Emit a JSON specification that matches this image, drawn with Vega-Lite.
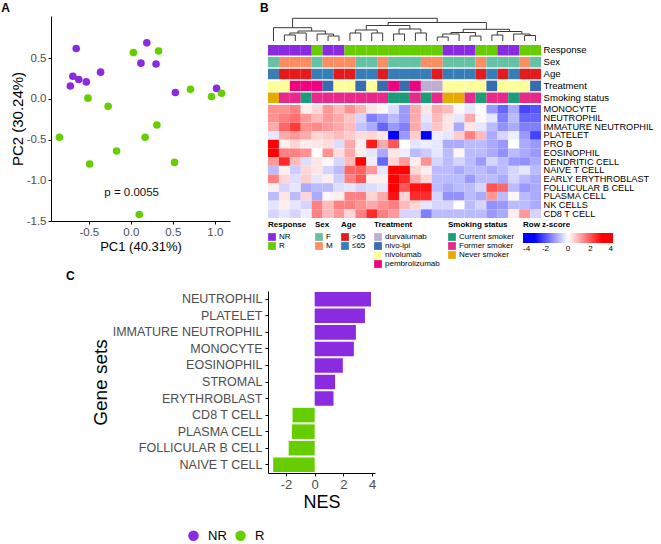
{
  "$schema": "https://vega.github.io/schema/vega-lite/v6.json",
  "padding": {"left": 1, "top": 2, "right": 2, "bottom": 0},
  "config": {
    "view": {"stroke": null},
    "font": "Liberation Sans",
    "locale": {"number": {"decimal": ".", "thousands": ",", "grouping": [3], "currency": ["$", ""], "minus": "-"}},
    "title": {"fontSize": 12, "fontWeight": "bold", "color": "#000", "anchor": "start", "font": "Liberation Sans"},
    "axis": {"grid": false, "domainColor": "#000", "tickColor": "#000", "labelColor": "#4D4D4D", "titleColor": "#000", "titleFontWeight": "normal", "tickSize": 3, "labelFont": "Liberation Sans", "titleFont": "Liberation Sans"},
    "legend": {
      "orient": "bottom", "offset": 3, "padding": 0,
      "titleFont": "Liberation Sans", "titleFontSize": 8, "titleFontWeight": "bold", "titleColor": "#000", "titlePadding": 4,
      "labelFont": "Liberation Sans", "labelFontSize": 8, "labelColor": "#000", "labelOffset": 3,
      "symbolType": "square", "symbolSize": 60, "symbolStrokeWidth": 0, "rowPadding": 1
    }
  },
  "datasets": {
    "pca": [
      {"PC1": -0.65, "PC2": 0.62, "Response": "NR"},
      {"PC1": -0.69, "PC2": 0.28, "Response": "NR"},
      {"PC1": -0.72, "PC2": 0.16, "Response": "NR"},
      {"PC1": -0.62, "PC2": 0.24, "Response": "NR"},
      {"PC1": -0.53, "PC2": 0.21, "Response": "NR"},
      {"PC1": -0.36, "PC2": 0.33, "Response": "NR"},
      {"PC1": 0.12, "PC2": 0.44, "Response": "NR"},
      {"PC1": 0.19, "PC2": 0.69, "Response": "NR"},
      {"PC1": 0.30, "PC2": 0.43, "Response": "NR"},
      {"PC1": 0.53, "PC2": 0.08, "Response": "NR"},
      {"PC1": 1.02, "PC2": 0.13, "Response": "NR"},
      {"PC1": 0.03, "PC2": 0.57, "Response": "R"},
      {"PC1": 0.33, "PC2": 0.59, "Response": "R"},
      {"PC1": -0.51, "PC2": 0.01, "Response": "R"},
      {"PC1": -0.27, "PC2": -0.09, "Response": "R"},
      {"PC1": -0.85, "PC2": -0.47, "Response": "R"},
      {"PC1": 0.71, "PC2": 0.12, "Response": "R"},
      {"PC1": 0.96, "PC2": 0.03, "Response": "R"},
      {"PC1": 1.08, "PC2": 0.07, "Response": "R"},
      {"PC1": 0.31, "PC2": -0.32, "Response": "R"},
      {"PC1": 0.17, "PC2": -0.47, "Response": "R"},
      {"PC1": -0.17, "PC2": -0.64, "Response": "R"},
      {"PC1": -0.49, "PC2": -0.80, "Response": "R"},
      {"PC1": 0.52, "PC2": -0.78, "Response": "R"},
      {"PC1": 0.10, "PC2": -1.42, "Response": "R"}
    ],
    "samples": [
      {"sample": "S01", "Response": "NR", "Sex": "F", "Age": "≤65", "Treatment": "nivolumab", "Smoking status": "Never smoker"},
      {"sample": "S02", "Response": "NR", "Sex": "M", "Age": ">65", "Treatment": "nivolumab", "Smoking status": "Former smoker"},
      {"sample": "S03", "Response": "NR", "Sex": "M", "Age": ">65", "Treatment": "pembrolizumab", "Smoking status": "Former smoker"},
      {"sample": "S04", "Response": "NR", "Sex": "M", "Age": ">65", "Treatment": "pembrolizumab", "Smoking status": "Current smoker"},
      {"sample": "S05", "Response": "R", "Sex": "F", "Age": "≤65", "Treatment": "pembrolizumab", "Smoking status": "Former smoker"},
      {"sample": "S06", "Response": "NR", "Sex": "M", "Age": "≤65", "Treatment": "nivo-ipi", "Smoking status": "Former smoker"},
      {"sample": "S07", "Response": "NR", "Sex": "M", "Age": ">65", "Treatment": "nivolumab", "Smoking status": "Former smoker"},
      {"sample": "S08", "Response": "R", "Sex": "M", "Age": ">65", "Treatment": "nivolumab", "Smoking status": "Former smoker"},
      {"sample": "S09", "Response": "R", "Sex": "F", "Age": "≤65", "Treatment": "nivo-ipi", "Smoking status": "Former smoker"},
      {"sample": "S10", "Response": "R", "Sex": "F", "Age": "≤65", "Treatment": "nivolumab", "Smoking status": "Former smoker"},
      {"sample": "S11", "Response": "R", "Sex": "M", "Age": ">65", "Treatment": "nivo-ipi", "Smoking status": "Former smoker"},
      {"sample": "S12", "Response": "R", "Sex": "F", "Age": "≤65", "Treatment": "pembrolizumab", "Smoking status": "Current smoker"},
      {"sample": "S13", "Response": "R", "Sex": "F", "Age": "≤65", "Treatment": "nivo-ipi", "Smoking status": "Current smoker"},
      {"sample": "S14", "Response": "R", "Sex": "F", "Age": "≤65", "Treatment": "pembrolizumab", "Smoking status": "Former smoker"},
      {"sample": "S15", "Response": "R", "Sex": "M", "Age": "≤65", "Treatment": "durvalumab", "Smoking status": "Current smoker"},
      {"sample": "S16", "Response": "R", "Sex": "M", "Age": ">65", "Treatment": "durvalumab", "Smoking status": "Former smoker"},
      {"sample": "S17", "Response": "NR", "Sex": "F", "Age": "≤65", "Treatment": "nivolumab", "Smoking status": "Never smoker"},
      {"sample": "S18", "Response": "NR", "Sex": "F", "Age": "≤65", "Treatment": "nivolumab", "Smoking status": "Never smoker"},
      {"sample": "S19", "Response": "NR", "Sex": "F", "Age": "≤65", "Treatment": "nivolumab", "Smoking status": "Former smoker"},
      {"sample": "S20", "Response": "R", "Sex": "M", "Age": ">65", "Treatment": "nivolumab", "Smoking status": "Current smoker"},
      {"sample": "S21", "Response": "R", "Sex": "F", "Age": "≤65", "Treatment": "nivo-ipi", "Smoking status": "Former smoker"},
      {"sample": "S22", "Response": "NR", "Sex": "F", "Age": ">65", "Treatment": "nivolumab", "Smoking status": "Former smoker"},
      {"sample": "S23", "Response": "NR", "Sex": "F", "Age": "≤65", "Treatment": "nivolumab", "Smoking status": "Current smoker"},
      {"sample": "S24", "Response": "R", "Sex": "M", "Age": ">65", "Treatment": "nivolumab", "Smoking status": "Former smoker"},
      {"sample": "S25", "Response": "R", "Sex": "F", "Age": ">65", "Treatment": "nivo-ipi", "Smoking status": "Former smoker"}
    ],
    "heat": [
      {"cell": "MONOCYTE", "S01": 1.3, "S02": 1.3, "S03": 1.5, "S04": 0.2, "S05": 0.5, "S06": 1.2, "S07": 0.8, "S08": 1.3, "S09": 0.9, "S10": 0.3, "S11": 0.1, "S12": -0.4, "S13": -1.2, "S14": 1.0, "S15": 0.3, "S16": 1.0, "S17": 0.8, "S18": 0.1, "S19": -0.3, "S20": 0.0, "S21": -1.2, "S22": -1.8, "S23": -1.0, "S24": -2.2, "S25": -2.0},
      {"cell": "NEUTROPHIL", "S01": 1.3, "S02": 1.5, "S03": 1.7, "S04": 1.2, "S05": 0.8, "S06": 1.2, "S07": 1.0, "S08": 0.7, "S09": -0.5, "S10": -1.5, "S11": -1.2, "S12": -0.8, "S13": -1.2, "S14": 1.0, "S15": -0.3, "S16": 0.8, "S17": 0.3, "S18": -0.3, "S19": 1.0, "S20": 0.1, "S21": -0.3, "S22": -1.5, "S23": -0.8, "S24": -1.8, "S25": -1.8},
      {"cell": "IMMATURE NEUTROPHIL", "S01": 1.0, "S02": 1.8, "S03": 2.3, "S04": 1.3, "S05": 1.4, "S06": 1.2, "S07": 1.0, "S08": 0.8, "S09": -0.7, "S10": -1.0, "S11": -1.8, "S12": -1.2, "S13": -1.5, "S14": 1.0, "S15": -0.5, "S16": 0.7, "S17": 0.3, "S18": -1.0, "S19": 0.3, "S20": -0.3, "S21": -0.8, "S22": -1.3, "S23": -1.0, "S24": -1.5, "S25": -1.5},
      {"cell": "PLATELET", "S01": -0.3, "S02": 1.0, "S03": 1.2, "S04": 1.0, "S05": 0.5, "S06": 0.6, "S07": 0.8, "S08": 0.6, "S09": 0.4, "S10": 0.5, "S11": 0.3, "S12": -3.0, "S13": -1.2, "S14": 0.6, "S15": -3.0, "S16": -0.2, "S17": -0.3, "S18": 0.6, "S19": 1.5, "S20": 0.8, "S21": -1.0, "S22": -0.5, "S23": -0.2, "S24": -1.2, "S25": -2.2},
      {"cell": "PRO B", "S01": 3.5, "S02": 0.2, "S03": 0.5, "S04": 0.2, "S05": 0.3, "S06": 0.4, "S07": -0.4, "S08": 1.0, "S09": 0.2, "S10": 2.7, "S11": 1.0, "S12": 2.0, "S13": 0.0, "S14": -0.3, "S15": -0.2, "S16": -0.3, "S17": -1.0, "S18": -1.0, "S19": -0.8, "S20": -0.8, "S21": -1.0, "S22": -1.2, "S23": 0.0, "S24": -1.0, "S25": -1.2},
      {"cell": "EOSINOPHIL", "S01": 3.0, "S02": 1.5, "S03": 1.5, "S04": 1.3, "S05": 0.0, "S06": 1.3, "S07": 0.4, "S08": 1.0, "S09": 0.2, "S10": -0.3, "S11": -1.0, "S12": 0.3, "S13": -0.2, "S14": -0.8, "S15": -0.6, "S16": -0.3, "S17": -0.8, "S18": 0.1, "S19": -0.8, "S20": -0.8, "S21": -1.0, "S22": -1.3, "S23": -0.8, "S24": -1.0, "S25": -1.2},
      {"cell": "DENDRITIC CELL", "S01": 1.2, "S02": 2.5, "S03": 0.8, "S04": -0.4, "S05": 0.3, "S06": 0.1, "S07": -0.5, "S08": 0.8, "S09": 3.5, "S10": -0.2, "S11": -1.8, "S12": 0.5, "S13": 1.2, "S14": 0.2, "S15": 1.3, "S16": -0.5, "S17": -0.8, "S18": -0.5, "S19": -0.8, "S20": -1.2, "S21": -0.5, "S22": -0.8, "S23": -1.2, "S24": -1.3, "S25": -1.0},
      {"cell": "NAIVE T CELL", "S01": -0.8, "S02": 0.2, "S03": -0.6, "S04": 0.5, "S05": 0.3, "S06": -0.5, "S07": -0.8, "S08": 1.8, "S09": 1.8, "S10": 1.2, "S11": -0.3, "S12": 3.5, "S13": 3.0, "S14": 0.5, "S15": 0.2, "S16": -0.8, "S17": -0.8, "S18": -1.0, "S19": -0.8, "S20": -0.8, "S21": -1.0, "S22": -0.8, "S23": -0.5, "S24": -0.3, "S25": -0.8},
      {"cell": "EARLY ERYTHROBLAST", "S01": 1.5, "S02": 0.5, "S03": -0.4, "S04": 0.6, "S05": -0.3, "S06": 0.2, "S07": -0.6, "S08": 1.5, "S09": 2.0, "S10": 0.2, "S11": 0.2, "S12": 3.5, "S13": 2.5, "S14": 1.0, "S15": 0.5, "S16": -0.8, "S17": -0.8, "S18": -0.8, "S19": -1.2, "S20": -0.8, "S21": -0.8, "S22": -1.0, "S23": -0.5, "S24": -0.8, "S25": -1.0},
      {"cell": "FOLLICULAR B CELL", "S01": 0.2, "S02": -0.5, "S03": -0.3, "S04": -1.0, "S05": -0.8, "S06": -0.8, "S07": -0.4, "S08": -0.3, "S09": -0.5, "S10": -0.4, "S11": -0.3, "S12": 3.8, "S13": 2.0, "S14": 2.8, "S15": 2.8, "S16": -0.8, "S17": -1.0, "S18": -0.8, "S19": -0.8, "S20": -0.5, "S21": 2.0, "S22": 1.8, "S23": -0.8, "S24": -1.2, "S25": -1.0},
      {"cell": "PLASMA CELL", "S01": -0.8, "S02": 0.3, "S03": -0.8, "S04": 0.5, "S05": -1.0, "S06": 0.1, "S07": 0.2, "S08": 1.5, "S09": 1.5, "S10": 0.5, "S11": 1.0, "S12": 2.8, "S13": 0.5, "S14": 2.5, "S15": 2.5, "S16": -0.5, "S17": -1.3, "S18": -1.3, "S19": -0.8, "S20": -1.0, "S21": 1.2, "S22": -0.8, "S23": 0.1, "S24": -0.8, "S25": -1.0},
      {"cell": "NK CELLS", "S01": -0.3, "S02": 0.2, "S03": -0.3, "S04": -0.5, "S05": 1.5, "S06": 0.8, "S07": 1.5, "S08": 1.5, "S09": 1.3, "S10": 1.0, "S11": 1.3, "S12": 1.5, "S13": 0.8, "S14": 0.5, "S15": -0.3, "S16": -0.5, "S17": -0.5, "S18": 0.0, "S19": -0.8, "S20": -0.5, "S21": -1.3, "S22": -1.2, "S23": -0.8, "S24": -0.8, "S25": -1.0},
      {"cell": "CD8 T CELL", "S01": -0.5, "S02": -0.3, "S03": -0.5, "S04": -0.2, "S05": 1.5, "S06": 0.8, "S07": 1.2, "S08": 0.5, "S09": 1.5, "S10": 2.5, "S11": 1.5, "S12": 1.2, "S13": -0.5, "S14": -0.5, "S15": -1.5, "S16": -0.8, "S17": -0.8, "S18": -0.8, "S19": -0.8, "S20": -0.8, "S21": -1.2, "S22": -1.0, "S23": 0.2, "S24": 1.2, "S25": -0.5}
    ],
    "dendro": [
      {"l": 1.5, "r": 2.5, "lh": 0, "rh": 0, "h": 6},
      {"l": 2.0, "r": 3.5, "lh": 6, "rh": 0, "h": 8},
      {"l": 5.5, "r": 6.5, "lh": 0, "rh": 0, "h": 5},
      {"l": 4.5, "r": 6.0, "lh": 0, "rh": 5, "h": 7},
      {"l": 2.75, "r": 5.25, "lh": 8, "rh": 7, "h": 10},
      {"l": 0.5, "r": 4.0, "lh": 0, "rh": 10, "h": 13.3},
      {"l": 7.5, "r": 8.5, "lh": 0, "rh": 0, "h": 8},
      {"l": 9.5, "r": 10.5, "lh": 0, "rh": 0, "h": 8},
      {"l": 8.0, "r": 10.0, "lh": 8, "rh": 8, "h": 11},
      {"l": 11.5, "r": 12.5, "lh": 0, "rh": 0, "h": 7},
      {"l": 13.5, "r": 14.5, "lh": 0, "rh": 0, "h": 8},
      {"l": 12.0, "r": 14.0, "lh": 7, "rh": 8, "h": 12},
      {"l": 9.0, "r": 13.0, "lh": 11, "rh": 12, "h": 15.5},
      {"l": 15.5, "r": 16.5, "lh": 0, "rh": 0, "h": 4},
      {"l": 16.0, "r": 17.5, "lh": 4, "rh": 0, "h": 7},
      {"l": 18.5, "r": 19.5, "lh": 0, "rh": 0, "h": 5},
      {"l": 16.75, "r": 19.0, "lh": 7, "rh": 5, "h": 8.5},
      {"l": 20.5, "r": 21.5, "lh": 0, "rh": 0, "h": 6},
      {"l": 23.5, "r": 24.5, "lh": 0, "rh": 0, "h": 5.5},
      {"l": 22.5, "r": 24.0, "lh": 0, "rh": 5.5, "h": 7},
      {"l": 21.0, "r": 23.25, "lh": 6, "rh": 7, "h": 9.5},
      {"l": 17.875, "r": 22.125, "lh": 8.5, "rh": 9.5, "h": 11.7},
      {"l": 11.0, "r": 20.0, "lh": 15.5, "rh": 11.7, "h": 18.5},
      {"l": 2.25, "r": 15.5, "lh": 13.3, "rh": 18.5, "h": 22.7}
    ],
    "nes": [
      {"set": "NEUTROPHIL", "nes": 3.92, "group": "NR"},
      {"set": "PLATELET", "nes": 3.5, "group": "NR"},
      {"set": "IMMATURE NEUTROPHIL", "nes": 2.87, "group": "NR"},
      {"set": "MONOCYTE", "nes": 2.73, "group": "NR"},
      {"set": "EOSINOPHIL", "nes": 1.96, "group": "NR"},
      {"set": "STROMAL", "nes": 1.42, "group": "NR"},
      {"set": "ERYTHROBLAST", "nes": 1.31, "group": "NR"},
      {"set": "CD8 T CELL", "nes": -1.54, "group": "R"},
      {"set": "PLASMA CELL", "nes": -1.58, "group": "R"},
      {"set": "FOLLICULAR B CELL", "nes": -1.81, "group": "R"},
      {"set": "NAIVE T CELL", "nes": -2.89, "group": "R"}
    ]
  },
  "resolve": {"scale": {"color": "independent"}},
  "bounds": "flush",
  "spacing": 38,
  "hconcat": [
    {
      "title": {"text": "A", "dx": -9, "offset": 1},
      "width": 179,
      "height": 205,
      "layer": [
        {
          "data": {"name": "pca"},
          "mark": {"type": "circle", "size": 58, "opacity": 1},
          "encoding": {
            "x": {"field": "PC1", "type": "quantitative", "scale": {"domain": [-0.95, 1.18], "nice": false, "zero": false}, "axis": {"title": "PC1 (40.31%)", "values": [-0.5, 0, 0.5, 1], "format": ".1f", "labelFontSize": 11.5, "titleFontSize": 13, "labelPadding": 2, "titlePadding": 3}},
            "y": {"field": "PC2", "type": "quantitative", "scale": {"domain": [-1.5, 1.02], "nice": false, "zero": false}, "axis": {"title": "PC2 (30.24%)", "values": [-1.5, -1, -0.5, 0, 0.5], "format": ".1f", "labelFontSize": 11.5, "titleFontSize": 15, "labelPadding": 2, "titlePadding": 1}},
            "color": {"field": "Response", "type": "nominal", "scale": {"domain": ["NR", "R"], "range": ["#8A2BE2", "#66CD00"]}, "legend": null}
          }
        },
        {
          "data": {"values": [{"label": "p = 0.0055", "PC1": 0.01, "PC2": -1.15}]},
          "mark": {"type": "text", "fontSize": 11.5, "color": "#111"},
          "encoding": {
            "x": {"field": "PC1", "type": "quantitative"},
            "y": {"field": "PC2", "type": "quantitative"},
            "text": {"field": "label"}
          }
        }
      ]
    },
    {
      "spacing": 2,
      "resolve": {"scale": {"color": "independent"}},
      "vconcat": [
        {
          "title": {"text": "B", "dx": -8, "offset": 1},
          "spacing": 2,
          "resolve": {"scale": {"color": "independent"}},
          "vconcat": [
            {
              "width": 273,
              "height": 25,
              "data": {"name": "dendro"},
              "layer": [
                {
                  "mark": {"type": "rule", "color": "#3a3a3a", "strokeWidth": 1},
                  "encoding": {
                    "x": {"field": "l", "type": "quantitative", "scale": {"domain": [0, 25], "nice": false, "zero": false}, "axis": null},
                    "x2": {"field": "r"},
                    "y": {"field": "h", "type": "quantitative", "scale": {"domain": [0, 25], "nice": false}, "axis": null}
                  }
                },
                {
                  "mark": {"type": "rule", "color": "#3a3a3a", "strokeWidth": 1},
                  "encoding": {
                    "x": {"field": "l", "type": "quantitative"},
                    "y": {"field": "lh", "type": "quantitative"},
                    "y2": {"field": "h"}
                  }
                },
                {
                  "mark": {"type": "rule", "color": "#3a3a3a", "strokeWidth": 1},
                  "encoding": {
                    "x": {"field": "r", "type": "quantitative"},
                    "y": {"field": "rh", "type": "quantitative"},
                    "y2": {"field": "h"}
                  }
                }
              ]
            },
            {
              "width": 273,
              "height": 173,
              "resolve": {"scale": {"y": "independent", "color": "independent"}, "axis": {"y": "independent"}},
              "layer": [
                {
                  "data": {"name": "samples"},
                  "resolve": {"scale": {"color": "independent"}},
                  "layer": [
                    {
                      "mark": "rect",
                      "encoding": {
                        "x": {"field": "sample", "type": "nominal", "axis": null, "scale": {"paddingInner": 0, "paddingOuter": 0}},
                        "y": {"datum": "Response", "type": "nominal", "scale": {"domain": ["Response", "Sex", "Age", "Treatment", "Smoking status"], "range": [0, 58], "paddingInner": 0.12, "paddingOuter": 0}, "axis": {"orient": "right", "title": null, "domain": false, "ticks": false, "labelPadding": 2, "labelFontSize": 9.6, "labelColor": "#000"}},
                        "color": {"field": "Response", "type": "nominal", "scale": {"domain": ["NR", "R"], "range": ["#8A2BE2", "#66CD00"]}, "legend": {"title": "Response", "direction": "vertical"}}
                      }
                    },
                    {
                      "mark": "rect",
                      "encoding": {
                        "x": {"field": "sample", "type": "nominal"},
                        "y": {"datum": "Sex", "type": "nominal"},
                        "color": {"field": "Sex", "type": "nominal", "scale": {"domain": ["F", "M"], "range": ["#66C2A5", "#FC8D62"]}, "legend": {"title": "Sex", "direction": "vertical"}}
                      }
                    },
                    {
                      "mark": "rect",
                      "encoding": {
                        "x": {"field": "sample", "type": "nominal"},
                        "y": {"datum": "Age", "type": "nominal"},
                        "color": {"field": "Age", "type": "nominal", "scale": {"domain": [">65", "≤65"], "range": ["#E41A1C", "#377EB8"]}, "legend": {"title": "Age", "direction": "vertical"}}
                      }
                    },
                    {
                      "mark": "rect",
                      "encoding": {
                        "x": {"field": "sample", "type": "nominal"},
                        "y": {"datum": "Treatment", "type": "nominal"},
                        "color": {"field": "Treatment", "type": "nominal", "scale": {"domain": ["durvalumab", "nivo-ipi", "nivolumab", "pembrolizumab"], "range": ["#BEAED4", "#386CB0", "#FFFF99", "#F0027F"]}, "legend": {"title": "Treatment", "direction": "vertical"}}
                      }
                    },
                    {
                      "mark": "rect",
                      "encoding": {
                        "x": {"field": "sample", "type": "nominal"},
                        "y": {"datum": "Smoking status", "type": "nominal"},
                        "color": {"field": "Smoking status", "type": "nominal", "scale": {"domain": ["Current smoker", "Former smoker", "Never smoker"], "range": ["#1B9E77", "#E7298A", "#E6AB02"]}, "legend": {"title": "Smoking status", "direction": "vertical"}}
                      }
                    }
                  ]
                },
                {
                  "data": {"name": "heat"},
                  "transform": [{"fold": ["S01", "S02", "S03", "S04", "S05", "S06", "S07", "S08", "S09", "S10", "S11", "S12", "S13", "S14", "S15", "S16", "S17", "S18", "S19", "S20", "S21", "S22", "S23", "S24", "S25"], "as": ["sample", "z"]}],
                  "mark": "rect",
                  "encoding": {
                    "x": {"field": "sample", "type": "nominal"},
                    "y": {"field": "cell", "type": "nominal", "scale": {"domain": ["MONOCYTE", "NEUTROPHIL", "IMMATURE NEUTROPHIL", "PLATELET", "PRO B", "EOSINOPHIL", "DENDRITIC CELL", "NAIVE T CELL", "EARLY ERYTHROBLAST", "FOLLICULAR B CELL", "PLASMA CELL", "NK CELLS", "CD8 T CELL"], "range": [60, 173], "paddingInner": 0, "paddingOuter": 0}, "axis": {"orient": "right", "title": null, "domain": false, "ticks": false, "labelPadding": 2, "labelFontSize": 9.2, "labelColor": "#000"}},
                    "color": {"field": "z", "type": "quantitative", "scale": {"domain": [-4, -3, 0, 3, 4], "range": ["#0000FF", "#0000FF", "#FFFFFF", "#FF0000", "#FF0000"], "interpolate": "rgb"}, "legend": {"title": "Row z-score", "direction": "horizontal", "gradientLength": 90, "gradientThickness": 10, "values": [-4, -2, 0, 2, 4]}}
                  }
                }
              ]
            }
          ]
        },
        {
          "width": 107,
          "height": 182,
          "title": {"text": "C", "frame": "group", "dx": -202, "offset": 8},
          "data": {"name": "nes"},
          "mark": {"type": "bar"},
          "encoding": {
            "y": {"field": "set", "type": "nominal", "sort": null, "scale": {"paddingInner": 0.12, "paddingOuter": 0.06}, "axis": {"title": "Gene sets", "titleFontSize": 19, "titlePadding": 2, "labelFontSize": 12.5, "labelPadding": 3}},
            "x": {"field": "nes", "type": "quantitative", "scale": {"domain": [-3.25, 4.2], "nice": false, "zero": false}, "axis": {"values": [-2, 0, 2, 4], "title": "NES", "titleFontSize": 18, "labelFontSize": 13, "labelPadding": 2, "titlePadding": 2}},
            "x2": {"datum": 0},
            "color": {"field": "group", "type": "nominal", "scale": {"domain": ["NR", "R"], "range": ["#8A2BE2", "#66CD00"]}, "legend": {"orient": "none", "legendX": -81, "legendY": 238, "direction": "horizontal", "title": null, "symbolType": "circle", "symbolSize": 110, "labelFontSize": 13, "labelOffset": 8, "columnPadding": 7}}
          }
        }
      ]
    }
  ]
}
